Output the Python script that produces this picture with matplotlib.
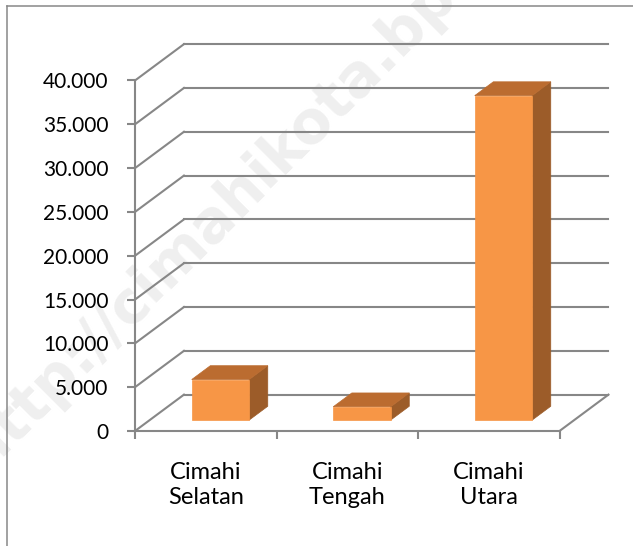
import matplotlib
matplotlib.use("Agg")
import matplotlib.pyplot as plt
from matplotlib.patches import Polygon
from matplotlib.lines import Line2D

# data
categories = ["Cimahi\nSelatan", "Cimahi\nTengah", "Cimahi\nUtara"]
values = [4630, 1520, 37030]
y_ticks = [0, 5000, 10000, 15000, 20000, 25000, 30000, 35000, 40000]

grid_color = "#878787"
front_color = "#F79646"
top_color = "#BB6C30"
side_color = "#9C5C29"

# oblique depth vector (in data units) used for the fake 3D look
DX = 0.346
DY = 4150
D0, D1 = 0.30, 0.68     # bar sits between these depth fractions
HALF_W = 0.203

plt.rcParams['font.family'] = ['Lato', 'DejaVu Sans']

fig = plt.figure(figsize=(6.33, 5.46), dpi=100)
ax = fig.add_axes([135 / 633, 115 / 546, 424.5 / 633, 350.5 / 546])
ax.set_zorder(1)
ax.set_xlim(0, 3)
ax.set_ylim(0, 40000)
ax.patch.set_alpha(0)

# back wall gridlines + side wall diagonals
for v in y_ticks:
    ax.plot([0, DX], [v, v + DY], color=grid_color, lw=1.5, clip_on=False, zorder=1)
    ax.plot([DX, 3 + DX], [v + DY, v + DY], color=grid_color, lw=1.5, clip_on=False, zorder=1)
# right floor edge
ax.plot([3, 3 + DX], [0, DY], color=grid_color, lw=1.5, clip_on=False, zorder=1)

# bars
for i, val in enumerate(values):
    c = i + 0.5
    x0 = c - HALF_W + D0 * DX
    x1 = c + HALF_W + D0 * DX
    y0 = D0 * DY
    ox = (D1 - D0) * DX
    oy = (D1 - D0) * DY
    front = [(x0, y0), (x1, y0), (x1, y0 + val), (x0, y0 + val)]
    top = [(x0, y0 + val), (x1, y0 + val), (x1 + ox, y0 + val + oy), (x0 + ox, y0 + val + oy)]
    side = [(x1, y0), (x1 + ox, y0 + oy), (x1 + ox, y0 + oy + val), (x1, y0 + val)]
    for pts, col in [(side, side_color), (top, top_color), (front, front_color)]:
        ax.add_patch(Polygon(pts, closed=True, facecolor=col, edgecolor=col, lw=0.5,
                             clip_on=False, zorder=3))

# axes styling
for s in ["top", "right"]:
    ax.spines[s].set_visible(False)
for s in ["left", "bottom"]:
    ax.spines[s].set_color(grid_color)
    ax.spines[s].set_linewidth(1.5)
    ax.spines[s].set_zorder(2)

ax.set_yticks(y_ticks)
ax.set_yticklabels([f"{v:,}".replace(",", ".") for v in y_ticks])
ax.tick_params(axis="y", direction="out", length=6, width=1.5, color=grid_color,
               pad=13, labelsize=15, labelcolor="black")

ax.set_xticks([0, 1, 2, 3])
ax.set_xticklabels([])
ax.set_xticks([0.5, 1.5, 2.5], minor=True)
ax.set_xticklabels(categories, minor=True, linespacing=1.28)
ax.tick_params(axis="x", which="major", direction="out", length=6, width=1.5, color=grid_color)
ax.tick_params(axis="x", which="minor", length=0, pad=22, labelsize=17, labelcolor="black")

# outer chart frame
fig.add_artist(Line2D([7.5 / 633, 7.5 / 633], [0, 1 - 6 / 546], color=grid_color, lw=1.1))
fig.add_artist(Line2D([7.5 / 633, 1], [1 - 6 / 546, 1 - 6 / 546], color=grid_color, lw=1.1))

# faint watermark behind the chart
fig.text(288 / 633, 1 - 145 / 546, "http://cimahikota.bps.go.id", rotation=45,
         rotation_mode="anchor", ha="center", va="center", fontsize=42,
         fontweight="bold", family="DejaVu Sans", color="#efefef", zorder=0)

fig.savefig("out.png", dpi=100)
